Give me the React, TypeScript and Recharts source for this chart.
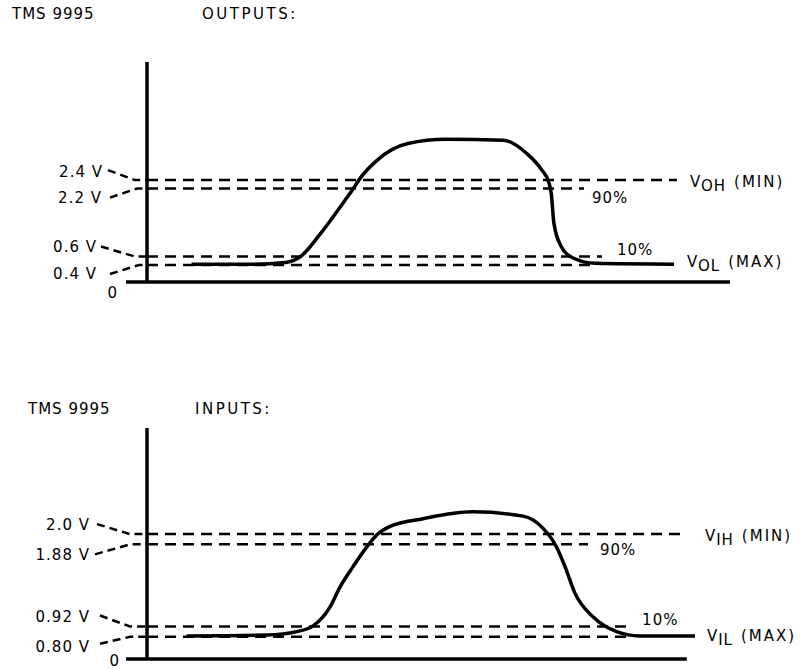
import React from "react";
import { LineChart, Line, XAxis, YAxis, ReferenceLine } from "recharts";

// TMS 9995 OUTPUTS: output waveform (time in arbitrary units, volts)
const outTime = [15.3, 35.7, 47.5, 52.7, 59.3, 65.9, 70.5, 73.1, 79.0, 89.5, 102.6, 122.3, 130.2, 135.4, 137.8, 138.7, 139.6, 142.0, 146.0, 153.8, 180.8];
const outVolts = [0.42, 0.42, 0.46, 0.6, 1.12, 1.73, 2.17, 2.44, 2.87, 3.26, 3.36, 3.34, 3.03, 2.64, 2.35, 2.08, 1.38, 0.85, 0.57, 0.44, 0.42];
const outLevels = [2.4, 2.2, 0.6, 0.4];
const outLevelNames = ["2.4 V", "2.2 V", "0.6 V", "0.4 V"];
const outLevelEnd = [181.8, 149.9, 156.1, 153.0];

// TMS 9995 INPUTS: input waveform
const inTime = [13.6, 41.1, 51.4, 57.1, 62.8, 66.2, 70.7, 75.4, 78.8, 83.4, 94.7, 111.8, 129.0, 135.8, 140.5, 143.4, 146.8, 153.1, 161.1, 169.1, 188.0];
const inVolts = [0.81, 0.82, 0.86, 0.93, 1.15, 1.38, 1.62, 1.85, 1.99, 2.09, 2.18, 2.26, 2.21, 2.07, 1.85, 1.62, 1.31, 1.03, 0.86, 0.81, 0.81];
const inLevels = [2.0, 1.88, 0.92, 0.8];
const inLevelNames = ["2.0 V", "1.88 V", "0.92 V", "0.80 V"];
const inLevelEnd = [183.5, 151.3, 164.7, 166.7];

const outData = outTime.map((t, i) => ({ t, v: outVolts[i] }));
const inData = inTime.map((t, i) => ({ t, v: inVolts[i] }));

const INK = "#000";
const font = { fontFamily: "'DejaVu Sans', sans-serif", fontSize: 15, letterSpacing: 1, fill: INK };

// where the left-hand labels and their little dashed leaders sit, relative to the axis
type TickLayout = { tx: number; ty: number; lx: number; ly: number; ex: number };
const outTickLayout: TickLayout[] = [
  { tx: -44, ty: -3, lx: -39, ly: -10, ex: -12 },
  { tx: -45, ty: 14.5, lx: -37, ly: 9, ex: -10 },
  { tx: -50, ty: -5, lx: -46, ly: -10, ex: -12 },
  { tx: -50, ty: 14, lx: -37, ly: 9, ex: -8 },
];
const inTickLayout: TickLayout[] = [
  { tx: -57, ty: -4, lx: -50, ly: -10, ex: -17 },
  { tx: -57, ty: 15.5, lx: -52, ly: 10, ex: -17 },
  { tx: -57, ty: -4, lx: -47, ly: -11, ex: -17 },
  { tx: -57, ty: 15, lx: -47, ly: 7, ex: -17 },
];

// right-hand annotations on each level line
type SideText = { main: string; sub?: string; tail?: string; dx: number; dy: number };
const outSide: SideText[] = [
  { main: "V", sub: "OH", tail: "(MIN)", dx: 13, dy: 7 },
  { main: "90%", dx: 8, dy: 14 },
  { main: "10%", dx: 15, dy: -2 },
  { main: "V", sub: "OL", tail: "(MAX)", dx: 94, dy: 2 },
];
const inSide: SideText[] = [
  { main: "V", sub: "IH", tail: "(MIN)", dx: 23, dy: 7 },
  { main: "90%", dx: 12, dy: 11 },
  { main: "10%", dx: 15, dy: -1 },
  { main: "V", sub: "IL", tail: "(MAX)", dx: 74, dy: 4 },
];

const makeTick = (levels: number[], names: string[], layout: TickLayout[], zero: { tx: number; ty: number }) =>
  (props: any) => {
    const { x, y, payload } = props;
    const i = levels.indexOf(payload.value);
    if (i < 0) {
      return (
        <g>
          <line x1={x - 21} x2={x} y1={y} y2={y} stroke={INK} strokeWidth={3.5} />
          <text x={x + zero.tx} y={y + zero.ty} textAnchor="end" style={font}>0</text>
        </g>
      );
    }
    const l = layout[i];
    return (
      <g>
        <text x={x + l.tx} y={y + l.ty} textAnchor="end" style={font}>{names[i]}</text>
        <polyline
          points={`${x + l.lx},${y + l.ly} ${x + l.ex},${y} ${x},${y}`}
          fill="none" stroke={INK} strokeWidth={2.5} strokeDasharray="8 5"
        />
      </g>
    );
  };

const sideLabel = (s: SideText) => (props: any) => {
  const vb = props.viewBox;
  const x = vb.x + vb.width + s.dx;
  const y = vb.y + s.dy;
  return (
    <text x={x} y={y} style={{ ...font, fontSize: 15 }}>
      {s.main}
      {s.sub && <tspan dy={4}>{s.sub}</tspan>}
      {s.tail && <tspan dx={8} dy={-4} style={{ letterSpacing: 2 }}>{s.tail}</tspan>}
    </text>
  );
};

interface PanelProps {
  data: { t: number; v: number }[];
  levels: number[];
  names: string[];
  ends: number[];
  layout: TickLayout[];
  side: SideText[];
  zero: { tx: number; ty: number };
  floor: number;
  ceil: number;
  axisEnd: number;
  height: number;
  top: number;
  bottom: number;
}

function Panel(p: PanelProps) {
  return (
    <LineChart width={805} height={p.height} data={p.data} margin={{ top: p.top, right: 75, bottom: p.bottom, left: 0 }}>
      <XAxis dataKey="t" type="number" domain={[0, 200]} allowDataOverflow hide />
      <YAxis
        type="number"
        domain={[p.floor, p.ceil]}
        allowDataOverflow
        ticks={[p.floor, ...p.levels]}
        interval={0}
        width={147}
        tickSize={0}
        tickMargin={0}
        tickLine={false}
        axisLine={{ stroke: INK, strokeWidth: 3.5 }}
        tick={makeTick(p.levels, p.names, p.layout, p.zero)}
      />
      <ReferenceLine
        segment={[{ x: 0, y: p.floor }, { x: p.axisEnd, y: p.floor }]}
        stroke={INK}
        strokeWidth={3.5}
        ifOverflow="visible"
      />
      {p.levels.map((lv, i) => (
        <ReferenceLine
          key={lv}
          segment={[{ x: 0, y: lv }, { x: p.ends[i], y: lv }]}
          stroke={INK}
          strokeWidth={2.5}
          strokeDasharray="11 7"
          ifOverflow="visible"
          label={sideLabel(p.side[i])}
        />
      ))}
      <Line type="monotone" dataKey="v" stroke={INK} strokeWidth={3.5} dot={false} isAnimationActive={false} />
    </LineChart>
  );
}

const titleStyle: React.CSSProperties = {
  position: "absolute",
  fontFamily: "'DejaVu Sans', sans-serif",
  fontSize: 15,
  letterSpacing: 1,
  lineHeight: "15px",
  color: INK,
  whiteSpace: "nowrap",
};

export default function App() {
  return (
    <div style={{ position: "absolute", left: 0, top: 0, width: 805, height: 669, background: "#fff", overflow: "hidden" }}>
      <div style={{ ...titleStyle, left: 12, top: 7 }}>TMS 9995</div>
      <div style={{ ...titleStyle, left: 202, top: 7, letterSpacing: 2.5 }}>OUTPUTS:</div>
      <div style={{ position: "absolute", left: 0, top: 0 }}>
        <Panel
          data={outData} levels={outLevels} names={outLevelNames} ends={outLevelEnd}
          layout={outTickLayout} side={outSide} zero={{ tx: -29, ty: 16 }}
          floor={0} ceil={5.18} axisEnd={200} height={320} top={62} bottom={38}
        />
      </div>
      <div style={{ ...titleStyle, left: 28, top: 402 }}>TMS 9995</div>
      <div style={{ ...titleStyle, left: 195, top: 402, letterSpacing: 2.5 }}>INPUTS:</div>
      <div style={{ position: "absolute", left: 0, top: 330 }}>
        <Panel
          data={inData} levels={inLevels} names={inLevelNames} ends={inLevelEnd}
          layout={inTickLayout} side={inSide} zero={{ tx: -27, ty: 7 }}
          floor={0.54} ceil={3.24} axisEnd={185.2} height={339} top={98} bottom={10}
        />
      </div>
    </div>
  );
}
